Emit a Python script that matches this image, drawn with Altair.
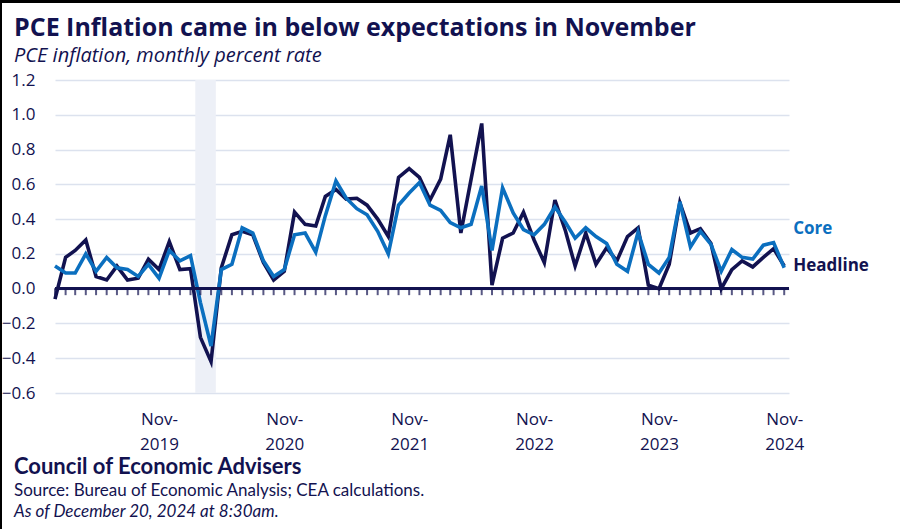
import altair as alt
import pandas as pd

# ---------------- data ----------------
months = [f"{y}-{m:02d}-01" for y in range(2019, 2025) for m in range(1, 13)][:71]

headline = [
    -0.06, 0.18, 0.22, 0.28, 0.07, 0.05, 0.13, 0.05, 0.06, 0.17, 0.11, 0.27,   # 2019
    0.11, 0.115, -0.28, -0.42, 0.12, 0.31, 0.33, 0.31, 0.15, 0.05, 0.10, 0.44,  # 2020
    0.37, 0.36, 0.53, 0.57, 0.515, 0.52, 0.48, 0.40, 0.30, 0.64, 0.69, 0.64,    # 2021
    0.51, 0.63, 0.885, 0.32, 0.63, 0.95, 0.02, 0.29, 0.32, 0.44, 0.28, 0.15,    # 2022
    0.51, 0.33, 0.13, 0.32, 0.14, 0.235, 0.16, 0.30, 0.35, 0.02, 0.0, 0.14,     # 2023
    0.495, 0.32, 0.345, 0.26, 0.0, 0.11, 0.16, 0.125, 0.18, 0.23, 0.13,         # 2024
]
core = [
    0.13, 0.09, 0.09, 0.20, 0.10, 0.18, 0.12, 0.11, 0.07, 0.14, 0.06, 0.22,     # 2019
    0.16, 0.19, -0.08, -0.33, 0.11, 0.14, 0.35, 0.32, 0.16, 0.07, 0.11, 0.31,   # 2020
    0.32, 0.21, 0.42, 0.62, 0.52, 0.46, 0.425, 0.33, 0.20, 0.48, 0.55, 0.61,    # 2021
    0.48, 0.45, 0.38, 0.35, 0.37, 0.59, 0.22, 0.58, 0.435, 0.34, 0.31, 0.37,    # 2022
    0.47, 0.38, 0.29, 0.35, 0.30, 0.26, 0.14, 0.10, 0.325, 0.14, 0.09, 0.18,    # 2023
    0.50, 0.24, 0.33, 0.255, 0.10, 0.225, 0.18, 0.17, 0.25, 0.265, 0.12,        # 2024
]
series_names = ["Headline", "Core"]
label_values = [0.13, 0.345]          # vertical position of the end labels
band_dates = ["2020-02-15", "2020-04-15"]
label_years = [2019, 2020, 2021, 2022, 2023, 2024]
y_ticks = [-0.6, -0.4, -0.2, 0.0, 0.2, 0.4, 0.6, 0.8, 1.0, 1.2]

title_text = "PCE Inflation came in below expectations in November"
subtitle_text = "PCE inflation, monthly percent rate"
footer_org = "Council of Economic Advisers"
footer_source = "Source: Bureau of Economic Analysis; CEA calculations."
footer_asof = "As of December 20, 2024 at 8:30am."

NAVY = "#121250"
BLUE = "#0b6fbf"
GRID = "#dce2ee"
BAND = "#edf0f7"
FONT = "Open Sans"
FOOT_FONT = "Lato"

W, H = 734, 313

hl = pd.DataFrame({"date": months, "value": headline, "series": "Headline"})
cr = pd.DataFrame({"date": months, "value": core, "series": "Core"})
labels = pd.DataFrame({"date": [months[-1]] * 2, "value": label_values, "series": series_names})
band = pd.DataFrame({"start": [band_dates[0]], "end": [band_dates[1]]})

xscale = alt.Scale(
    type="utc",
    domain=[alt.DateTime(year=2019, month=1, date=1, utc=True),
            alt.DateTime(year=2024, month=11, date=15, utc=True)],
)
yscale = alt.Scale(domain=[-0.6, 1.2], nice=False, zero=False)
color_scale = alt.Scale(domain=series_names, range=[NAVY, BLUE])

x_axis = alt.Axis(
    values=[alt.DateTime(year=y, month=11, date=1, utc=True) for y in label_years],
    labelExpr="[utcFormat(datum.value, '%b') + '-', utcFormat(datum.value, '%Y')]",
    domain=False, ticks=False, grid=False, labelPadding=18, labelLineHeight=25,
    labelOverlap=False, labelBound=False, labelFlush=False, title=None,
)
y_axis = alt.Axis(
    values=y_ticks, format=".1f", domain=False, ticks=False, grid=True,
    gridColor=GRID, gridWidth=1.5, labelPadding=20, labelOverlap=False,
    labelBound=False, labelFlush=False, title=None,
)

X = alt.X("date:T", scale=xscale, axis=x_axis)

band_layer = alt.Chart(band).mark_rect(color=BAND).encode(
    x=alt.X("start:T", scale=xscale, axis=x_axis),
    x2="end:T",
)

def line(df):
    return alt.Chart(df).mark_line(strokeWidth=3.6, strokeJoin="miter").encode(
        x=X,
        y=alt.Y("value:Q", scale=yscale, axis=y_axis),
        color=alt.Color("series:N", scale=color_scale, legend=None),
    )

zero_rule = alt.Chart(hl).mark_rule(color=NAVY, strokeWidth=2.5).encode(
    y=alt.datum(0, scale=yscale, axis=y_axis)
)
month_ticks = alt.Chart(hl).mark_tick(
    orient="vertical", size=7, thickness=2, color=NAVY, yOffset=3
).encode(
    x=X,
    y=alt.datum(0, scale=yscale, axis=y_axis),
)

end_labels = alt.Chart(labels).mark_text(
    align="left", baseline="middle", dx=9, font=FONT, fontSize=17, fontWeight="bold"
).encode(
    x=X,
    y=alt.Y("value:Q", scale=yscale, axis=y_axis),
    text="series:N",
    color=alt.Color("series:N", scale=color_scale, legend=None),
)

def text_line(text, y, size, font, weight="normal", style="normal"):
    return alt.Chart(pd.DataFrame({"t": [text]})).mark_text(
        align="left", baseline="alphabetic", font=font, fontSize=size,
        fontWeight=weight, fontStyle=style, color=NAVY,
    ).encode(text="t:N", x=alt.value(-41), y=alt.value(y))

title1 = text_line(title_text, -44, 25, FONT, weight="bold")
title2 = text_line(subtitle_text, -18, 20, FONT, style="italic")
foot1 = text_line(footer_org, 394, 22, FOOT_FONT, weight="bold")
foot2 = text_line(footer_source, 416, 17, FOOT_FONT)
foot3 = text_line(footer_asof, 437, 17, FOOT_FONT, style="italic")

frame_left = alt.Chart(hl).mark_rule(color="black", strokeWidth=2).encode(
    x=alt.value(-54), y=alt.value(-80), y2=alt.value(H + 140)
)
frame_top = alt.Chart(hl).mark_rule(color="black", strokeWidth=2).encode(
    x=alt.value(-55), x2=alt.value(W + 120), y=alt.value(-78.5)
)

chart = alt.layer(
    band_layer, line(hl), line(cr), zero_rule, month_ticks, end_labels,
    title1, title2, foot1, foot2, foot3, frame_left, frame_top,
).properties(
    width=W, height=H,
    autosize=alt.AutoSizeParams(type="none"),
    padding={"left": 55, "top": 80, "right": 111, "bottom": 136},
    background="white",
).configure_view(stroke=None).configure_axis(
    labelFont=FONT, labelFontSize=17, labelColor=NAVY, labelOverlap=False,
)

chart.save("out.html", embed_options={"renderer": "svg", "actions": False})
